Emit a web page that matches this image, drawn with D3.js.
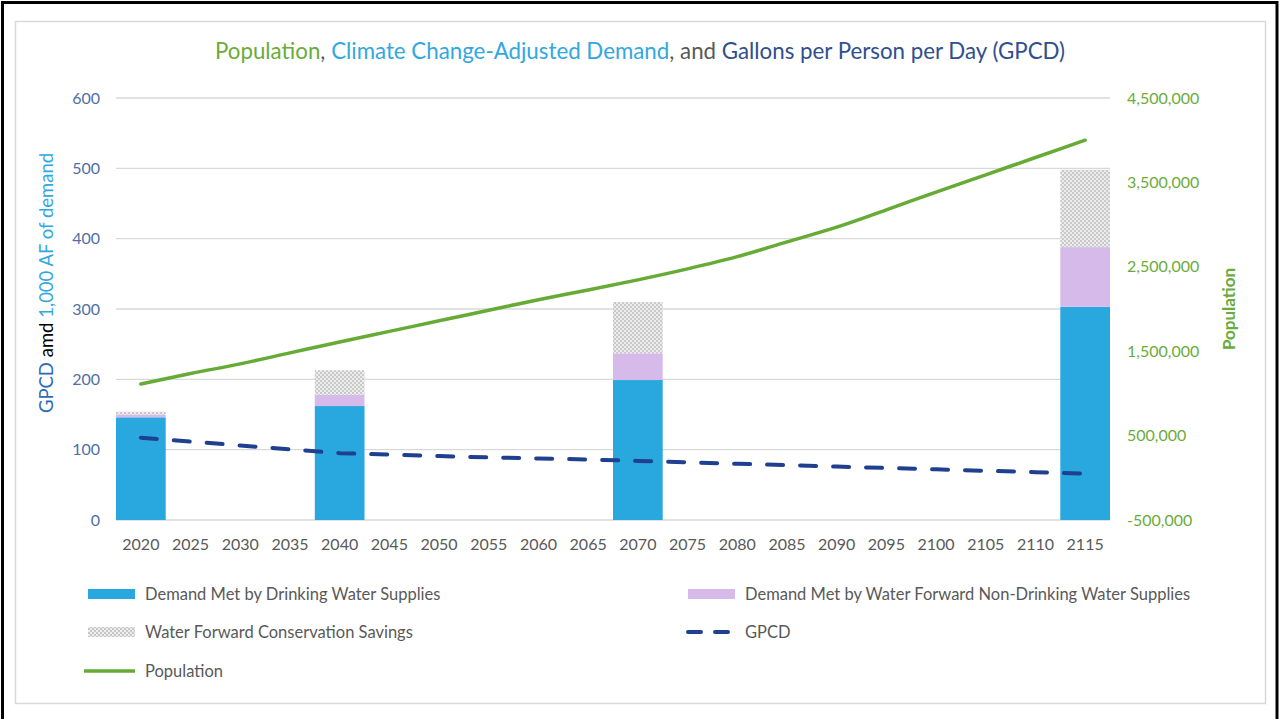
<!DOCTYPE html>
<html>
<head>
<meta charset="utf-8">
<script src="https://cdn.jsdelivr.net/npm/d3@7"></script>
<style>
  body { margin: 0; background: #fff; }
  text { font-family: Lato, "Open Sans", sans-serif; }
</style>
</head>
<body>
<script>
// years on the x axis
var years = [2020, 2025, 2030, 2035, 2040, 2045, 2050, 2055, 2060, 2065,
             2070, 2075, 2080, 2085, 2090, 2095, 2100, 2105, 2110, 2115];

// stacked bars (1,000 AF), only some years have bars
var barYears = [2020, 2040, 2070, 2115];
var drinking = [146, 162, 199, 303];
var nonDrinking = [4, 16, 38, 85];
var conservation = [4, 35, 73, 110];

// gallons per person per day
var gpcd = [117, 111.5, 106, 100.5, 95, 93, 91, 89, 87.5, 86,
            84, 82, 80, 78, 76, 74, 72, 70, 68, 66];

// population (right axis)
var population = [1111000, 1235000, 1350000, 1480000, 1610000, 1735000, 1860000, 1985000, 2110000, 2225000,
                  2345000, 2475000, 2620000, 2795000, 2970000, 3175000, 3385000, 3590000, 3795000, 4000000];

var leftTicks = [0, 100, 200, 300, 400, 500, 600];
var rightTicks = [-500000, 500000, 1500000, 2500000, 3500000, 4500000];

var W = 1279, H = 719;
var plotL = 116, plotR = 1110, plotT = 98, plotB = 520;

var svg = d3.select('body').append('svg').attr('width', W).attr('height', H);

// pattern for the conservation savings
var defs = svg.append('defs');
var pat = defs.append('pattern').attr('id', 'checks').attr('patternUnits', 'userSpaceOnUse')
  .attr('width', 4).attr('height', 4);
pat.append('rect').attr('width', 4).attr('height', 4).attr('fill', '#ececec');
pat.append('rect').attr('width', 2).attr('height', 2).attr('fill', '#c9c9c9');
pat.append('rect').attr('x', 2).attr('y', 2).attr('width', 2).attr('height', 2).attr('fill', '#c9c9c9');

// outer frames
svg.append('rect').attr('x', 2.5).attr('y', 2.5).attr('width', 1274.5).attr('height', 730)
  .attr('fill', 'none').attr('stroke', '#000').attr('stroke-width', 3);
svg.append('rect').attr('x', 15.5).attr('y', 21.5).attr('width', 1250).attr('height', 682)
  .attr('fill', 'none').attr('stroke', '#d9d9d9').attr('stroke-width', 1.5);

var x = d3.scaleBand().domain(years).range([plotL, plotR]).padding(0);
var y = d3.scaleLinear().domain([0, 600]).range([plotB, plotT]);
var y2 = d3.scaleLinear().domain([-500000, 4500000]).range([plotB, plotT]);

// gridlines
svg.append('g').selectAll('line').data(leftTicks).enter().append('line')
  .attr('x1', plotL).attr('x2', plotR)
  .attr('y1', function(d){ return y(d); }).attr('y2', function(d){ return y(d); })
  .attr('stroke', '#d9d9d9').attr('stroke-width', 1.3);

// left axis
var yAxis = d3.axisLeft(y).tickValues(leftTicks).tickSize(0).tickPadding(16);
var gy = svg.append('g').attr('transform', 'translate(' + plotL + ',0)').call(yAxis);
gy.select('.domain').remove();
gy.selectAll('text').attr('fill', '#4f6fa6').style('font-size', '16px').style('font-family', 'Lato');

// right axis (plain hyphen for the negative label, as in the original)
var fmt = d3.format(',');
var y2Axis = d3.axisRight(y2).tickValues(rightTicks).tickSize(0).tickPadding(17)
  .tickFormat(function(d){ return fmt(d).replace('\u2212', '-'); });
var gy2 = svg.append('g').attr('transform', 'translate(' + plotR + ',0)').call(y2Axis);
gy2.select('.domain').remove();
gy2.selectAll('text').attr('fill', '#6aac3a').style('font-size', '16px').style('font-family', 'Lato');

// x axis
var xAxis = d3.axisBottom(x).tickSize(0).tickPadding(19);
var gx = svg.append('g').attr('transform', 'translate(0,' + plotB + ')').call(xAxis);
gx.select('.domain').remove();
gx.selectAll('text').attr('fill', '#595959').style('font-size', '16px').style('font-family', 'Lato');

// stacked bars
var stackRows = barYears.map(function(yr, i){
  return {year: yr, drinking: drinking[i], nonDrinking: nonDrinking[i], conservation: conservation[i]};
});
var keys = ['drinking', 'nonDrinking', 'conservation'];
var fills = {drinking: '#29a7df', nonDrinking: '#d6bbea', conservation: 'url(#checks)'};
var stacked = d3.stack().keys(keys)(stackRows);

svg.append('g').selectAll('g').data(stacked).enter().append('g')
  .attr('fill', function(d){ return fills[d.key]; })
  .selectAll('rect').data(function(d){ return d; }).enter().append('rect')
  .attr('x', function(d){ return x(d.data.year); })
  .attr('width', x.bandwidth())
  .attr('y', function(d){ return y(d[1]); })
  .attr('height', function(d){ return y(d[0]) - y(d[1]); });

// gpcd dashed line
var gpcdLine = d3.line()
  .x(function(d, i){ return x(years[i]) + x.bandwidth() / 2; })
  .y(function(d){ return y(d); });
svg.append('path').datum(gpcd).attr('d', gpcdLine)
  .attr('fill', 'none').attr('stroke', '#1f3f8f').attr('stroke-width', 4)
  .attr('stroke-dasharray', '16,17').attr('stroke-linecap', 'round');

// population line
var popLine = d3.line().curve(d3.curveMonotoneX)
  .x(function(d, i){ return x(years[i]) + x.bandwidth() / 2; })
  .y(function(d){ return y2(d); });
svg.append('path').datum(population).attr('d', popLine)
  .attr('fill', 'none').attr('stroke', '#65ab35').attr('stroke-width', 3.5)
  .attr('stroke-linecap', 'round');

// title
var title = svg.append('text').attr('x', 640).attr('y', 59).attr('text-anchor', 'middle')
  .style('font-size', '22.3px');
title.append('tspan').attr('fill', '#6aac3a').text('Population');
title.append('tspan').attr('fill', '#595959').text(', ');
title.append('tspan').attr('fill', '#31a8e0').text('Climate Change-Adjusted Demand');
title.append('tspan').attr('fill', '#595959').text(', and ');
title.append('tspan').attr('fill', '#2f4f8f').text('Gallons per Person per Day (GPCD)');

// left axis title
var lt = svg.append('text').attr('transform', 'translate(53,283) rotate(-90)')
  .attr('text-anchor', 'middle').style('font-size', '18.5px');
lt.append('tspan').attr('fill', '#2e6db5').text('GPCD ');
lt.append('tspan').attr('fill', '#000').text('amd ');
lt.append('tspan').attr('fill', '#31a8e0').text('1,000 AF of demand');

// right axis title
svg.append('text').attr('transform', 'translate(1235,309) rotate(-90)')
  .attr('text-anchor', 'middle').attr('fill', '#6aac3a')
  .style('font-size', '17px').style('font-weight', 'bold').text('Population');

// legend
var legendItems = [
  {label: 'Demand Met by Drinking Water Supplies', type: 'rect', fill: '#29a7df', lx: 88, ly: 594},
  {label: 'Demand Met by Water Forward Non-Drinking Water Supplies', type: 'rect', fill: '#d6bbea', lx: 688, ly: 594},
  {label: 'Water Forward Conservation Savings', type: 'rect', fill: 'url(#checks)', lx: 88, ly: 632},
  {label: 'GPCD', type: 'dash', fill: '#1f3f8f', lx: 686, ly: 632},
  {label: 'Population', type: 'line', fill: '#65ab35', lx: 84, ly: 671}
];
var lg = svg.append('g').selectAll('g').data(legendItems).enter().append('g')
  .attr('transform', function(d){ return 'translate(' + d.lx + ',' + d.ly + ')'; });
lg.each(function(d){
  var g = d3.select(this);
  if (d.type === 'rect') {
    g.append('rect').attr('x', 0).attr('y', -5).attr('width', 47).attr('height', 10).attr('fill', d.fill);
  } else if (d.type === 'dash') {
    g.append('line').attr('x1', 2).attr('x2', 47).attr('y1', 0).attr('y2', 0)
      .attr('stroke', d.fill).attr('stroke-width', 4).attr('stroke-dasharray', '13,14')
      .attr('stroke-linecap', 'round');
  } else {
    g.append('line').attr('x1', 0).attr('x2', 51).attr('y1', 0).attr('y2', 0)
      .attr('stroke', d.fill).attr('stroke-width', 3.5);
  }
  g.append('text').attr('x', d.type === 'line' ? 61 : (d.type === 'dash' ? 59 : 57)).attr('y', 6)
    .attr('fill', '#595959').style('font-size', '16.5px').text(d.label);
});
</script>
</body>
</html>
